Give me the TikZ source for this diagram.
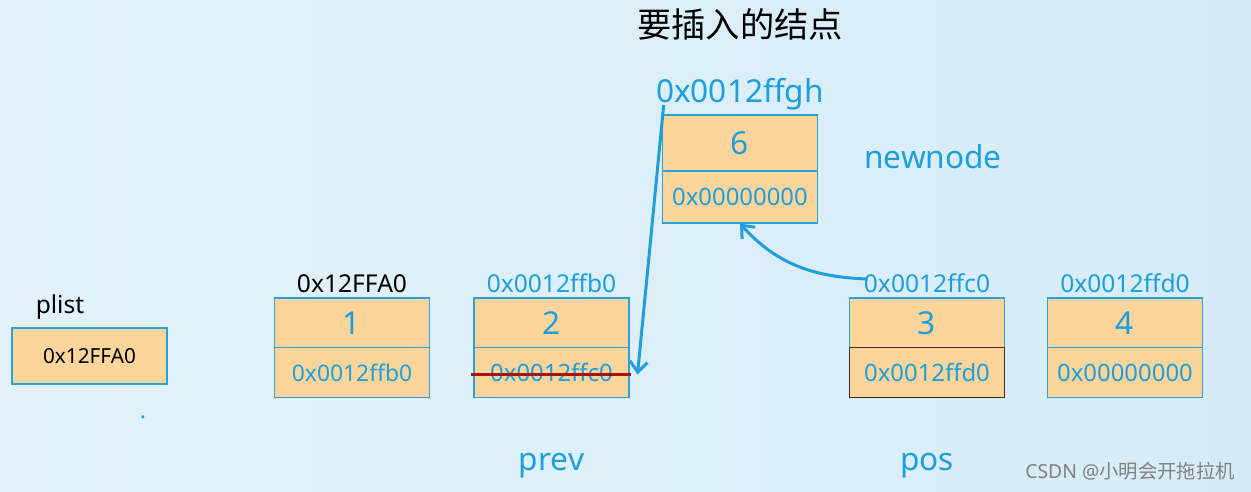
\documentclass[tikz,border=0pt]{standalone}
\usepackage{fontspec}
\setmainfont{Noto Sans}
\newfontfamily\cjk{Noto Sans CJK SC}
\usetikzlibrary{arrows.meta}
\definecolor{ptrblue}{HTML}{1E9FDC}
\definecolor{boxfill}{HTML}{FBD59B}
\definecolor{boxline}{HTML}{2BA1DC}
\definecolor{boxdark}{HTML}{3D2F28}
\definecolor{strikered}{HTML}{A8130C}
\definecolor{bgleft}{HTML}{E3F2FA}
\definecolor{bgright}{HTML}{D5ECF8}
\newcommand{\fs}[1]{\fontsize{#1}{#1}\selectfont}
\tikzset{
  cell/.style={draw=boxline, fill=boxfill, line width=0.6pt, minimum width=3.1cm,
    minimum height=1cm, inner sep=0pt, text=ptrblue},
  valcell/.style={cell, font=\fs{18pt}},
  ptrcell/.style={cell, font=\fs{13.6pt}},
  addr/.style={anchor=base, inner sep=0pt, text=ptrblue, font=\fs{14pt}},
  varname/.style={anchor=base, inner sep=0pt, text=ptrblue, font=\fs{18pt}},
  link/.style={draw=ptrblue, line width=1.7pt, -{Straight Barb[length=6pt,width=10pt]}}
}

\begin{document}
\begin{tikzpicture}[x=0.02cm, y=-0.02cm]
    \shade[left color=bgleft, right color=bgright] (0,0) rectangle (1251,491);
    \useasboundingbox (0,0) rectangle (1251,491);
    \node[inner sep=0pt, font=\cjk\fs{19.5pt}] (title) at (740,24) {要插入的结点};
% the new node
    \node[addr, font=\fs{18pt}] (lbl6) at (740,102) {0x0012ffgh};
    \node[valcell, minimum height=1.12cm] (n6v) at (740,143) {6};
    \node[ptrcell, minimum height=1.04cm] (n6p) at (740,197) {0x00000000};
    \node[varname] (newnode) at (933,168) {newnode};
% head pointer
    \node[addr, text=black] (plistlbl) at (60,313) {plist};
    \node[cell, text=black, font=\fs{11.8pt}, minimum height=1.12cm] (plist) at (89.5,356) {0x12FFA0};
    \node[anchor=base, inner sep=0pt, text=ptrblue, font=\fs{13pt}] (dot) at (143,418) {.};
% list nodes
    \node[addr, text=black] (lbl1) at (352,292) {0x12FFA0};
    \node[valcell] (n1v) at (352,323) {1};
    \node[ptrcell, font=\fs{13pt}] (n1p) at (352,372.5) {0x0012ffb0};
    \node[addr] (lbl2) at (551.5,292) {0x0012ffb0};
    \node[valcell] (n2v) at (551.5,323) {2};
    \node[ptrcell] (n2p) at (551.5,372.5) {0x0012ffc0};
    \node[addr] (lbl3) at (927,292) {0x0012ffc0};
    \node[valcell] (n3v) at (927,323) {3};
    \node[ptrcell, draw=boxdark] (n3p) at (927,372.5) {0x0012ffd0};
    \node[addr] (lbl4) at (1125,292) {0x0012ffd0};
    \node[valcell] (n4v) at (1125,323) {4};
    \node[ptrcell] (n4p) at (1125,372.5) {0x00000000};
    \node[varname] (prev) at (551.5,470) {prev};
    \node[varname] (pos) at (927,470) {pos};
    \draw[strikered, line width=1.7pt] ([shift={(-2,1.5)}]n2p.west) -- ([shift={(1,1.5)}]n2p.east);
    \draw[link] ([shift={(8,3)}]lbl6.base west) -- ([shift={(8,2)}]n2p.east);
    \draw[link] ([shift={(4,-13)}]lbl3.base west) to[out=178, in=-48] (n6p.south);
    \node[inner sep=0pt, text=gray, font=\fs{11pt}] (mark) at (1130,471) {CSDN @{\cjk 小明会开拖拉机}};
\end{tikzpicture}
\end{document}
